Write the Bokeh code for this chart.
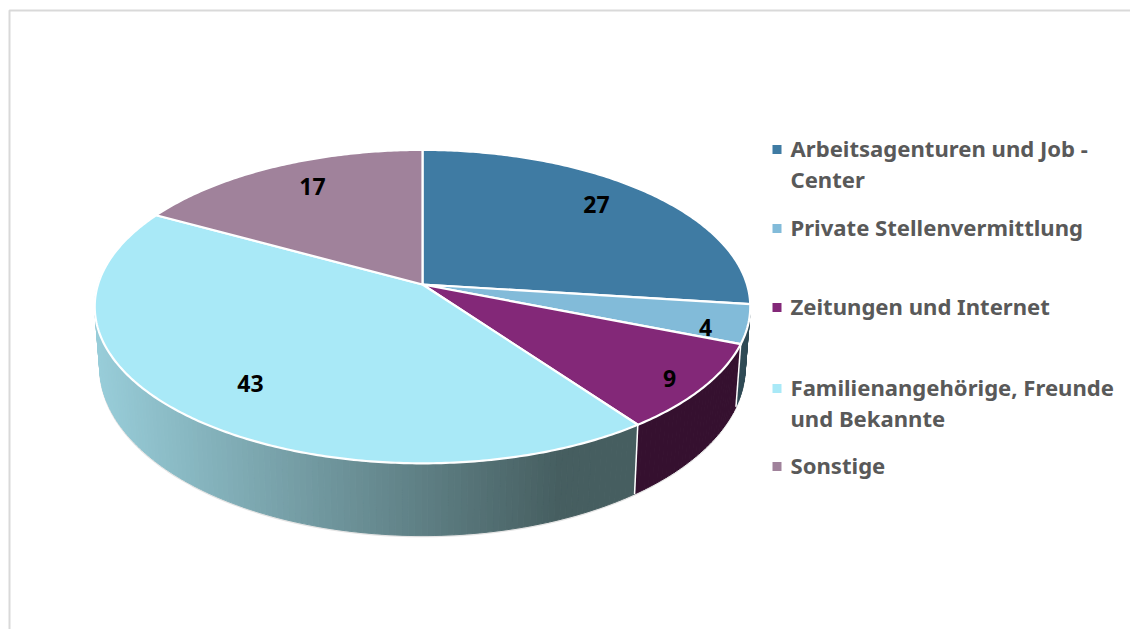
import math
from bokeh.plotting import figure
from bokeh.models import Range1d
from bokeh.core.properties import value
from bokeh.embed import file_html
from bokeh.resources import INLINE

# --- data ---
categories = ["Arbeitsagenturen und Job -\nCenter", "Private Stellenvermittlung", "Zeitungen und Internet",
              "Familienangehörige, Freunde\nund Bekannte", "Sonstige"]
shares = [27, 4, 9, 43, 17]
colors = ["#3F7BA3", "#82BBD9", "#832878", "#A9E9F7", "#A0829B"]
side_left = ["#2F5D7B", "#3B5F6E", "#35102F", "#98CDD9", "#77626F"]
side_right = ["#2F5D7B", "#2F4A55", "#35102F", "#465E60", "#77626F"]
label_pos = [(596, 204), (705, 327), (669, 378), (250, 383), (312, 186)]
legend_y = [149, 228, 307, 388, 466]
LEGEND_LINE = 31
LEGEND_TEXT_SHIFT = -2

# --- geometry of the tilted disc (screen pixels) ---
CX, CY, R, H, K = 422.0, 284.0, 324.5, 153.6, 0.141
LOW_S, LOW_C, LOW_Y = 0.985, 342.0, 1.08


def top(a):
    u, v = math.sin(a), math.cos(a)
    d = 1 + K * v
    return CX + R * u / d, CY - H * v / d


def low(a):
    x, y = top(a)
    return CX + LOW_S * (x - CX), LOW_C + LOW_Y * (y - CY)


def mix(c1, c2, t):
    a = [int(c1[i:i + 2], 16) for i in (1, 3, 5)]
    b = [int(c2[i:i + 2], 16) for i in (1, 3, 5)]
    return "#%02x%02x%02x" % tuple(round(p + (q - p) * t) for p, q in zip(a, b))


p = figure(width=1130, height=629, output_backend="svg", toolbar_location=None,
           x_range=Range1d(0, 1130), y_range=Range1d(629, 0), min_border=0,
           outline_line_color=None, background_fill_color="white", border_fill_color="white")
p.axis.visible = False
p.grid.visible = False

# chart frame (top and left edges visible)
p.line([9, 9, 1130], [629, 10, 10], line_color="#D9D9D9", line_width=2)

bounds = [0.0]
for s in shares:
    bounds.append(bounds[-1] + s / sum(shares) * 2 * math.pi)

# outer thin silhouette of the side wall
N = 180
sil_a = [i / N * 2 * math.pi for i in range(N + 1)]
p.line([low(a)[0] for a in sil_a], [low(a)[1] + 1 for a in sil_a], line_color="#E4E4E4", line_width=1.5)

# side wall, as narrow strips
for i in (1, 2, 3):
    a0, a1 = bounds[i], bounds[i + 1]
    n = max(3, int((a1 - a0) / (2 * math.pi) * 360))
    xs, ys, cs = [], [], []
    for k in range(n):
        s0 = a0 + (a1 - a0) * k / n
        s1 = a0 + (a1 - a0) * (k + 1) / n
        t0, t1, b1, b0 = top(s0), top(s1), low(s1), low(s0)
        xs.append([t0[0], t1[0], b1[0], b0[0]])
        ys.append([t0[1], t1[1], b1[1], b0[1]])
        mid = (t0[0] + t1[0]) / 2
        t = min(1, max(0, (mid - 95) / (560 - 95)))
        cs.append(mix(side_left[i], side_right[i], t))
    p.patches(xs, ys, fill_color=cs, line_color=cs, line_width=1)

# white separators on the wall
for i in (2, 3):
    t, b = top(bounds[i]), low(bounds[i])
    p.line([t[0], b[0]], [t[1], b[1]], line_color="white", line_width=1.5)

# top faces
for i in range(len(shares)):
    a0, a1 = bounds[i], bounds[i + 1]
    n = max(8, int((a1 - a0) * 90))
    pts = [top(a0 + (a1 - a0) * k / n) for k in range(n + 1)]
    xs = [CX] + [q[0] for q in pts]
    ys = [CY] + [q[1] for q in pts]
    p.patch(xs, ys, fill_color=colors[i], line_color="white", line_width=2.2, line_join="round")

# data labels
p.text([q[0] for q in label_pos], [q[1] for q in label_pos], text=[str(s) for s in shares],
       text_font=value("Noto Sans"), text_font_style="bold", text_font_size="23px",
       text_color="black", text_align="center", text_baseline="middle")

# legend
for i, cat in enumerate(categories):
    p.rect([776.5], [legend_y[i]], width=9, height=9, fill_color=colors[i], line_color=None)
    for j, line in enumerate(cat.split("\n")):
        p.text([790], [legend_y[i] + LEGEND_TEXT_SHIFT + j * LEGEND_LINE], text=[line],
               text_font=value("Noto Sans"), text_font_style="bold", text_font_size="22.1px",
               text_color="#595959", text_align="left", text_baseline="middle")

open("out.html", "w").write(file_html(p, INLINE))
